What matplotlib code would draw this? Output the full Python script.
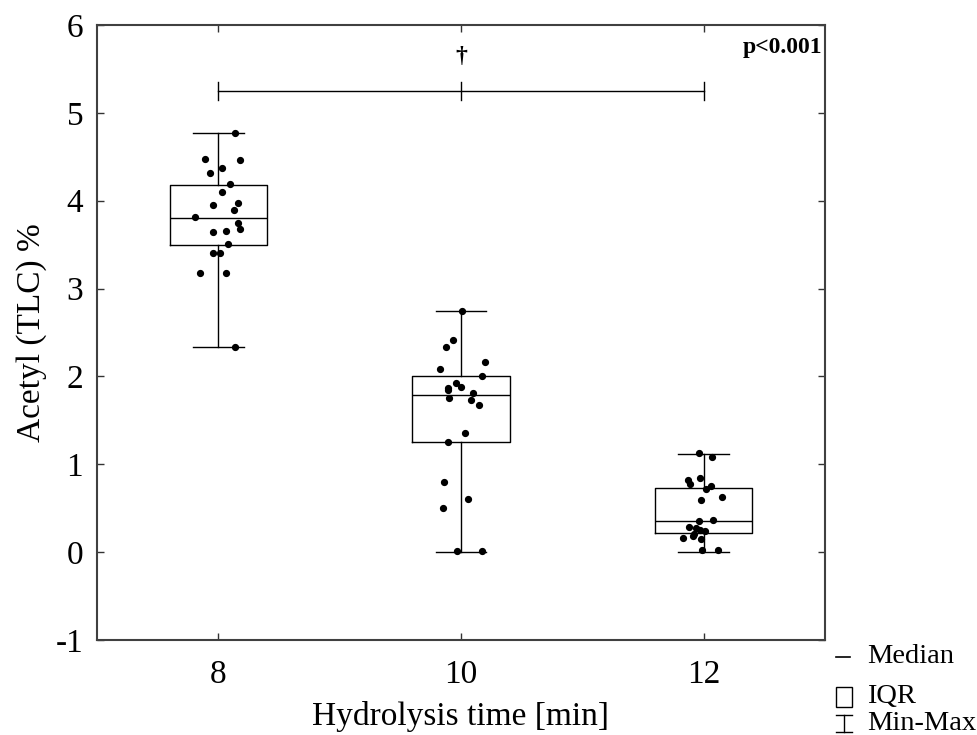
import matplotlib
matplotlib.use("Agg")
import matplotlib.pyplot as plt
from matplotlib.lines import Line2D
from matplotlib.patches import Rectangle

plt.rcParams['font.family'] = ['Liberation Serif', 'DejaVu Serif']
plt.rcParams['axes.unicode_minus'] = False

# ---- data ----
groups = [8, 10, 12]
box_q1 = [3.50, 1.25, 0.22]
box_med = [3.80, 1.79, 0.35]
box_q3 = [4.18, 2.00, 0.73]
box_min = [2.33, 0.00, 0.00]
box_max = [4.77, 2.74, 1.12]

pts8_x = [8.14, 7.89, 8.18, 8.03, 7.93, 8.10, 8.03, 7.96, 8.16, 8.13, 7.81, 8.16, 8.18,
          7.96, 8.06, 8.08, 7.96, 8.01, 7.85, 8.06, 8.14]
pts8_y = [4.77, 4.48, 4.46, 4.37, 4.32, 4.19, 4.10, 3.95, 3.97, 3.89, 3.81, 3.75, 3.68,
          3.64, 3.66, 3.51, 3.40, 3.41, 3.18, 3.18, 2.34]
pts10_x = [10.01, 9.93, 9.88, 10.20, 9.83, 10.17, 9.96, 10.00, 9.89, 9.89, 10.10, 9.90,
           10.08, 10.15, 10.03, 9.89, 9.86, 10.06, 9.85, 9.97, 10.17]
pts10_y = [2.74, 2.41, 2.34, 2.16, 2.08, 2.01, 1.92, 1.88, 1.87, 1.84, 1.81, 1.75,
           1.73, 1.67, 1.36, 1.25, 0.80, 0.61, 0.50, 0.01, 0.01]
pts12_x = [11.96, 12.07, 11.87, 11.89, 11.97, 12.02, 12.06, 12.15, 11.98, 12.08, 11.96,
           11.88, 11.94, 11.97, 12.01, 11.92, 11.83, 11.91, 11.98, 11.99, 12.12]
pts12_y = [1.13, 1.08, 0.82, 0.78, 0.84, 0.72, 0.75, 0.63, 0.59, 0.36, 0.35,
           0.29, 0.27, 0.25, 0.24, 0.21, 0.16, 0.18, 0.15, 0.02, 0.02]

x_ticks = [8, 10, 12]
y_ticks = [-1, 0, 1, 2, 3, 4, 5, 6]
bracket_y = 5.25
p_text = "p<0.001"

# ---- figure ----
fig = plt.figure(figsize=(9.77, 7.35), dpi=100)
ax = fig.add_axes([0.0993, 0.1293, 0.7451, 0.8367])

stats = []
for i, g in enumerate(groups):
    stats.append(dict(med=box_med[i], q1=box_q1[i], q3=box_q3[i],
                      whislo=box_min[i], whishi=box_max[i], fliers=[], label=str(g)))

ax.bxp(stats, positions=groups, widths=0.8, capwidths=0.42, showfliers=False,
       boxprops=dict(color='black', linewidth=1.0),
       medianprops=dict(color='black', linewidth=1.0),
       whiskerprops=dict(color='black', linewidth=1.0),
       capprops=dict(color='black', linewidth=1.0),
       manage_ticks=False)

for xs, ys in [(pts8_x, pts8_y), (pts10_x, pts10_y), (pts12_x, pts12_y)]:
    ax.plot(xs, ys, 'o', color='black', markersize=4.2, zorder=3)

# significance bracket
ax.plot([groups[0], groups[-1]], [bracket_y, bracket_y], color='black', lw=1.0)
for g in groups:
    ax.plot([g, g], [bracket_y - 0.1, bracket_y + 0.1], color='black', lw=1.0)
ax.text(groups[1], 5.64, "\u2020", ha='center', va='center', fontsize=17, fontweight='bold')
ax.text(12.98, 5.74, p_text, ha='right', va='center', fontsize=17, fontweight='bold')

ax.set_xlim(7, 13)
ax.set_ylim(-1, 6)
ax.set_xticks(x_ticks)
ax.set_yticks(y_ticks)
ax.tick_params(direction='in', length=5, width=1, top=True, right=True,
               labeltop=False, labelright=False, labelsize=24, colors='#333333',
               labelcolor='black')
ax.tick_params(axis='x', pad=14)
ax.tick_params(axis='y', pad=10)
for s in ax.spines.values():
    s.set_color('#404040')
    s.set_linewidth(1.5)

ax.set_xlabel("Hydrolysis time [min]", fontsize=24, labelpad=8)
ax.set_ylabel("Acetyl (TLC) %", fontsize=24, labelpad=6)

# custom legend at bottom right
W, H = 977.0, 735.0
def fx(px): return px / W
def fy(py): return 1 - py / H
fig.add_artist(Line2D([fx(836), fx(850)], [fy(657), fy(657)], color='black', lw=1.2))
fig.add_artist(Rectangle((fx(836), fy(707)), fx(852) - fx(836), fy(687) - fy(707),
                         fill=False, edgecolor='black', lw=1.0))
fig.add_artist(Line2D([fx(844), fx(844)], [fy(715), fy(732)], color='black', lw=1.0))
fig.add_artist(Line2D([fx(836), fx(852)], [fy(715), fy(715)], color='black', lw=1.0))
fig.add_artist(Line2D([fx(836), fx(852)], [fy(732), fy(732)], color='black', lw=1.0))
fig.text(fx(867), fy(663), "Median", fontsize=20.5, va='baseline')
fig.text(fx(867), fy(703), "IQR", fontsize=20.5, va='baseline')
fig.text(fx(867), fy(730), "Min-Max", fontsize=20.5, va='baseline')

fig.savefig("out.png", dpi=100)
